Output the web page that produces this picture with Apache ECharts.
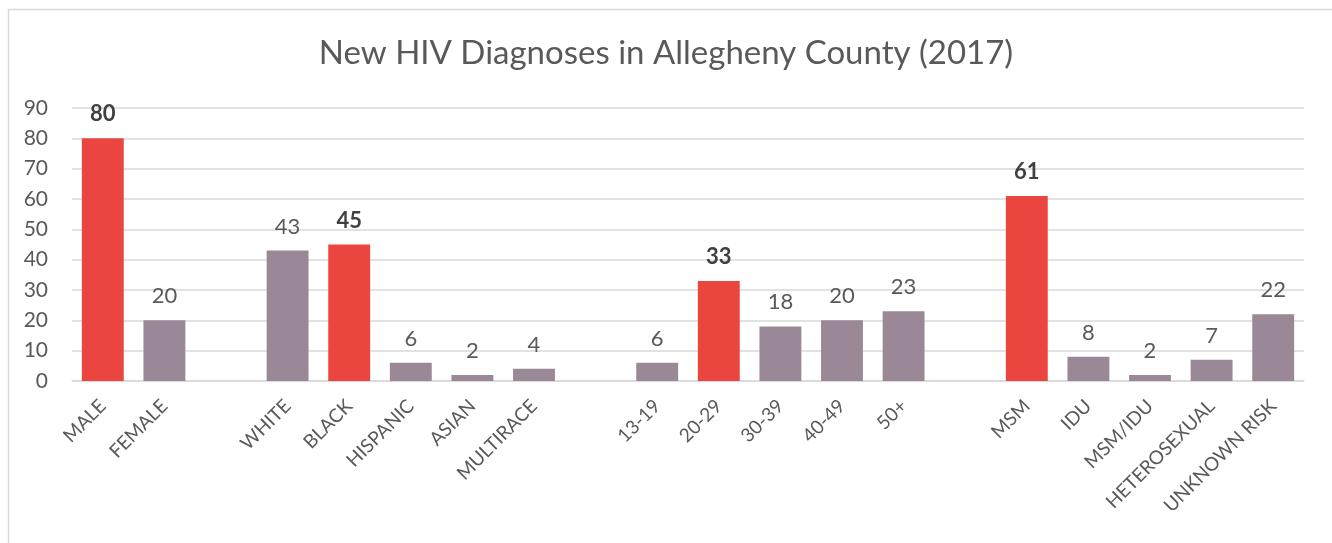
<!DOCTYPE html>
<html>
<head>
<meta charset="utf-8">
<script src="https://cdn.jsdelivr.net/npm/echarts@6/dist/echarts.min.js"></script>
<style>
  html, body { margin: 0; padding: 0; background: #fff; }
  #chart { width: 1332px; height: 543px; }
</style>
</head>
<body>
<div id="chart"></div>
<script>
// blank strings are the gaps between groups
const categories = ['MALE', 'FEMALE', '',
  'WHITE', 'BLACK', 'HISPANIC', 'ASIAN', 'MULTIRACE', '',
  '13-19', '20-29', '30-39', '40-49', '50+', '',
  'MSM', 'IDU', 'MSM/IDU', 'HETEROSEXUAL', 'UNKNOWN RISK'];
const values = [80, 20, null,
  43, 45, 6, 2, 4, null,
  6, 33, 18, 20, 23, null,
  61, 8, 2, 7, 22];
// largest group in each block, drawn in red
const highlighted = ['MALE', 'BLACK', '20-29', 'MSM'];

const RED = '#EA463F';
const GREY = '#9B8896';
const font = 'Lato, "Open Sans", sans-serif';

const seriesData = values.map((v, i) => {
  const hot = highlighted.includes(categories[i]);
  return {
    value: v === null ? '-' : v,
    itemStyle: { color: hot ? RED : GREY },
    label: hot ? { fontWeight: 'bold', color: '#404040' } : {}
  };
});

const chart = echarts.init(document.getElementById('chart'));
chart.setOption({
  animation: false,
  backgroundColor: '#fff',
  graphic: [{
    type: 'polyline',
    shape: { points: [[8.5, 560], [8.5, 9.5], [1340, 9.5]] },
    style: { stroke: '#D9D9D9', lineWidth: 1.5, fill: null },
    silent: true
  }],
  title: {
    text: 'New HIV Diagnoses in Allegheny County (2017)',
    left: 'center',
    top: 32,
    textStyle: { fontFamily: font, fontSize: 33, fontWeight: 'normal', color: '#595959' }
  },
  grid: { left: 72, right: 28, top: 108, bottom: 162 },
  xAxis: {
    type: 'category',
    data: categories,
    axisTick: { show: false },
    axisLine: { lineStyle: { color: '#D9D9D9', width: 1.5 } },
    axisLabel: {
      interval: 0,
      rotate: 45,
      margin: 22,
      fontFamily: font,
      fontSize: 19,
      color: '#595959'
    }
  },
  yAxis: {
    type: 'value',
    min: 0,
    max: 90,
    interval: 10,
    axisLine: { show: false },
    axisTick: { show: false },
    splitLine: { lineStyle: { color: '#D9D9D9', width: 1.5 } },
    axisLabel: { fontFamily: font, fontSize: 21, color: '#595959', margin: 24 }
  },
  series: [{
    type: 'bar',
    data: seriesData,
    barCategoryGap: '32%',
    label: {
      show: true,
      position: 'top',
      distance: 13,
      fontFamily: font,
      fontSize: 22,
      color: '#595959'
    }
  }]
});
</script>
</body>
</html>
